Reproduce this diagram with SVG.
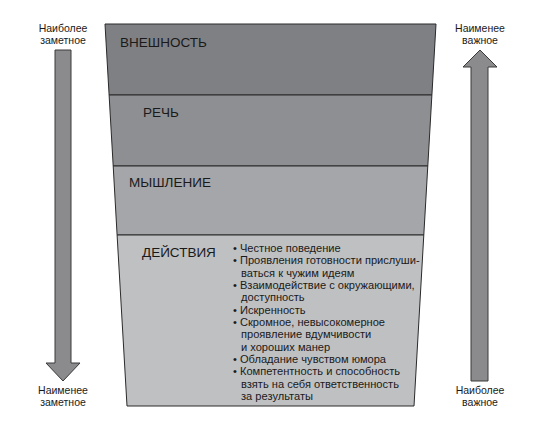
<svg xmlns="http://www.w3.org/2000/svg" width="542" height="440" viewBox="0 0 542 440">
<style>
text { font-family: "Liberation Sans", Arial, sans-serif; fill: #1a1a1a; }
.lbl { font-size: 10.5px; text-anchor: middle; }
.ttl { font-size: 13.5px; }
.bul { font-size: 11.1px; }
.band { stroke: #2a2a2a; stroke-width: 1; }
.arrow { fill: #8b8b8e; stroke: #3a3a3a; stroke-width: 1; }
</style>
<rect width="542" height="440" fill="#ffffff"/>
<g id="band-appearance">
<polygon class="band" fill="#7f8083" points="105,24 436,24 431.9,95 109.1,95"/>
<text class="ttl" x="120" y="47">ВНЕШНОСТЬ</text>
</g>
<g id="band-speech">
<polygon class="band" fill="#8e8f92" points="109.1,95 431.9,95 427.8,166 113.2,166"/>
<text class="ttl" x="143" y="117">РЕЧЬ</text>
</g>
<g id="band-thinking">
<polygon class="band" fill="#a5a6a9" points="113.2,166 427.8,166 423.8,235 117.1,235"/>
<text class="ttl" x="129" y="187">МЫШЛЕНИЕ</text>
</g>
<g id="band-actions">
<polygon class="band" fill="#bfc0c2" points="117.1,235 423.8,235 414,406 127,406"/>
<text class="ttl" x="142" y="257">ДЕЙСТВИЯ</text>
<g class="bul">
<text x="233" y="252">• Честное поведение</text>
<text x="233" y="264.3">• Проявления готовности прислуши-</text>
<text x="241" y="276.7">ваться к чужим идеям</text>
<text x="233" y="289">• Взаимодействие с окружающими,</text>
<text x="241" y="301.3">доступность</text>
<text x="233" y="313.7">• Искренность</text>
<text x="233" y="326">• Скромное, невысокомерное</text>
<text x="241" y="338.3">проявление вдумчивости</text>
<text x="241" y="350.7">и хороших манер</text>
<text x="233" y="363">• Обладание чувством юмора</text>
<text x="233" y="375.3">• Компетентность и способность</text>
<text x="241" y="387.7">взять на себя ответственность</text>
<text x="241" y="400">за результаты</text>
</g>
</g>
<g id="arrow-left">
<polygon class="arrow" points="55,50 71,50 71,363 80,363 63,381 46,363 55,363"/>
<text class="lbl" x="63" y="32">Наиболее</text>
<text class="lbl" x="63" y="44">заметное</text>
<text class="lbl" x="63" y="394">Наименее</text>
<text class="lbl" x="63" y="406">заметное</text>
</g>
<g id="arrow-right">
<polygon class="arrow" points="480,50 497,67 488,67 488,381 471,381 471,67 463,67"/>
<text class="lbl" x="480" y="32">Наименее</text>
<text class="lbl" x="480" y="44">важное</text>
<text class="lbl" x="480" y="394">Наиболее</text>
<text class="lbl" x="480" y="406">важное</text>
</g>
<g id="connectors"></g>
</svg>
